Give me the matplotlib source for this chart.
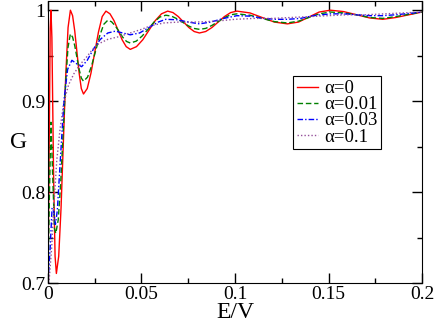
import matplotlib
matplotlib.use('Agg')
import matplotlib.pyplot as plt
from matplotlib.ticker import FixedLocator, FixedFormatter, MultipleLocator

plt.rcParams['font.family'] = ['Liberation Serif', 'DejaVu Serif']

# alpha = 0
x0 = [0, 0.0007, 0.0012, 0.0016, 0.0021, 0.003, 0.0038, 0.0045, 0.00575, 0.0070,
      0.00825, 0.0095, 0.01075, 0.012, 0.01317, 0.01433, 0.0155, 0.01667, 0.01783, 0.019,
      0.021, 0.023, 0.025, 0.027, 0.029, 0.031, 0.03317, 0.03533, 0.0375, 0.03967,
      0.04183, 0.044, 0.04733, 0.05067, 0.054, 0.05733, 0.06067, 0.064, 0.06683, 0.06967,
      0.0725, 0.07533, 0.07817, 0.081, 0.08433, 0.08767, 0.091, 0.09433, 0.09767, 0.101,
      0.108, 0.1145, 0.121, 0.128, 0.134, 0.1395, 0.145, 0.151, 0.158, 0.165,
      0.172, 0.179, 0.186, 0.193, 0.2]
g0 = [0.70, 0.86, 0.98, 1.0, 0.97, 0.82, 0.73, 0.711, 0.730, 0.783,
      0.856, 0.928, 0.981, 1.0, 0.994, 0.977, 0.954, 0.931, 0.914, 0.908,
      0.914, 0.931, 0.9535, 0.976, 0.993, 0.999, 0.996, 0.9885, 0.978, 0.9675,
      0.960, 0.957, 0.960, 0.9675, 0.978, 0.9885, 0.996, 0.999, 0.9974, 0.993,
      0.987, 0.981, 0.9766, 0.975, 0.9766, 0.981, 0.987, 0.993, 0.9974, 0.999,
      0.997, 0.992, 0.987, 0.985, 0.987, 0.9925, 0.998, 1.0, 0.9985, 0.995,
      0.9915, 0.990, 0.992, 0.995, 0.998]

# alpha = 0.01
x1 = [0, 0.0008, 0.0016, 0.0025, 0.0035, 0.0042, 0.0055, 0.0068, 0.0081, 0.0094,
      0.0107, 0.012, 0.01317, 0.01433, 0.0155, 0.01667, 0.01783, 0.019, 0.02117, 0.02333,
      0.0255, 0.02767, 0.02983, 0.032, 0.034, 0.036, 0.038, 0.040, 0.042, 0.044,
      0.04717, 0.05033, 0.0535, 0.05667, 0.05983, 0.063, 0.066, 0.069, 0.072, 0.075,
      0.078, 0.081, 0.08433, 0.08767, 0.091, 0.09433, 0.09767, 0.101, 0.108, 0.1145,
      0.121, 0.128, 0.134, 0.1395, 0.145, 0.151, 0.158, 0.165, 0.172, 0.179,
      0.186, 0.193, 0.2]
g1 = [0.70, 0.80, 0.877, 0.82, 0.76, 0.755, 0.770, 0.810, 0.8645, 0.919,
      0.959, 0.974, 0.9705, 0.961, 0.948, 0.935, 0.9255, 0.922, 0.9265, 0.939,
      0.9555, 0.972, 0.9845, 0.989, 0.9873, 0.9828, 0.9765, 0.9703, 0.9657, 0.964,
      0.966, 0.9716, 0.979, 0.9869, 0.9925, 0.9945, 0.9935, 0.9906, 0.9868, 0.9829,
      0.980, 0.979, 0.980, 0.9833, 0.9875, 0.9918, 0.995, 0.996, 0.9945, 0.991,
      0.9875, 0.986, 0.988, 0.992, 0.996, 0.998, 0.997, 0.995, 0.992, 0.991,
      0.993, 0.9955, 0.998]

# alpha = 0.03
x3 = [0, 0.0012, 0.0022, 0.003, 0.004, 0.005, 0.0066, 0.0085, 0.0105, 0.0128,
      0.0155, 0.018, 0.021, 0.0245, 0.028, 0.032, 0.036, 0.040, 0.044, 0.049,
      0.054, 0.059, 0.063, 0.069, 0.075, 0.081, 0.087, 0.094, 0.101, 0.108,
      0.115, 0.122, 0.128, 0.135, 0.142, 0.151, 0.158, 0.165, 0.172, 0.179,
      0.186, 0.193, 0.2]
g3 = [0.70, 0.74, 0.783, 0.78, 0.765, 0.78, 0.835, 0.90, 0.935, 0.945,
      0.941, 0.938, 0.945, 0.958, 0.968, 0.975, 0.977, 0.975, 0.973, 0.975,
      0.981, 0.987, 0.990, 0.9895, 0.987, 0.985, 0.987, 0.991, 0.994, 0.9935,
      0.991, 0.990, 0.990, 0.991, 0.994, 0.996, 0.996, 0.995, 0.994, 0.994,
      0.995, 0.9965, 0.998]

# alpha = 0.1
x10 = [0.0005, 0.002, 0.003, 0.0047, 0.0065, 0.0084, 0.011, 0.0138, 0.017, 0.020,
       0.0235, 0.027, 0.032, 0.038, 0.044, 0.05, 0.055, 0.062, 0.07, 0.08,
       0.09, 0.1, 0.11, 0.12, 0.13, 0.14, 0.15, 0.16, 0.17, 0.18,
       0.19, 0.2]
g10 = [0.70, 0.74, 0.78, 0.835, 0.87, 0.898, 0.918, 0.93, 0.94, 0.947,
       0.956, 0.963, 0.968, 0.971, 0.975, 0.979, 0.983, 0.986, 0.987, 0.987,
       0.988, 0.990, 0.991, 0.991, 0.992, 0.993, 0.994, 0.995, 0.995, 0.996,
       0.997, 0.998]

xticks = [0, 0.05, 0.1, 0.15, 0.2]
xlabels = ['0', '0.05', '0.1', '0.15', '0.2']
yticks = [0.7, 0.8, 0.9, 1.0]
ylabels = ['0.7', '0.8', '0.9', '1']

fig = plt.figure(figsize=(4.36, 3.22), dpi=100)
ax = fig.add_axes([0.110, 0.1196, 0.858, 0.877])

ax.plot(x0, g0, color='#ff0000', lw=1.0, label='α=0')
ax.plot(x1, g1, color='#008000', lw=1.0, ls=(0, (4, 2)), label='α=0.01')
ax.plot(x3, g3, color='#0000ff', lw=1.0, ls=(0, (4, 1.5, 1, 1.5)), label='α=0.03')
ax.plot(x10, g10, color='#94509a', lw=1.0, ls=(0, (1, 1.5)), label='α=0.1')

ax.set_xlim(0, 0.2)
ax.set_ylim(0.7, 1.01)
ax.xaxis.set_major_locator(FixedLocator(xticks))
ax.xaxis.set_major_formatter(FixedFormatter(xlabels))
ax.yaxis.set_major_locator(FixedLocator(yticks))
ax.yaxis.set_major_formatter(FixedFormatter(ylabels))
ax.xaxis.set_minor_locator(MultipleLocator(0.025))
ax.yaxis.set_minor_locator(MultipleLocator(0.05))
ax.tick_params(which='both', direction='in', top=True, right=True, labelsize=14)
ax.tick_params(which='major', length=7, width=1)
ax.tick_params(which='minor', length=3.5, width=1)
ax.tick_params(axis='x', pad=2)
ax.tick_params(axis='y', pad=2)

ax.set_xlabel('E/V', fontsize=17, labelpad=-1)
ax.set_ylabel('G', fontsize=17, rotation=0, labelpad=2, va='center')

leg = ax.legend(loc='upper left', bbox_to_anchor=(0.655, 0.734), borderaxespad=0,
                fancybox=False, framealpha=1, edgecolor='black', fontsize=13.5,
                handlelength=1.15, handletextpad=0.3, labelspacing=-0.05,
                borderpad=0.2)
leg.get_frame().set_linewidth(0.8)

fig.savefig('out.png', dpi=100)
